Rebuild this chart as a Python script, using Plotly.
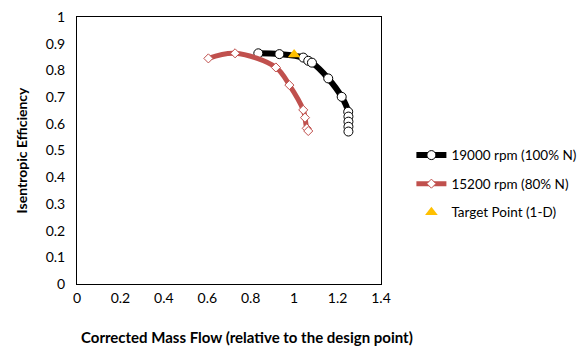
import plotly.graph_objects as go

# Data
flow_100 = [0.835, 0.932, 1.042, 1.065, 1.082, 1.157, 1.219, 1.249, 1.250, 1.250, 1.250, 1.250]
eff_100 = [0.864, 0.861, 0.848, 0.836, 0.829, 0.770, 0.701, 0.645, 0.627, 0.608, 0.589, 0.571]

flow_80 = [0.605, 0.728, 0.916, 0.978, 1.042, 1.050, 1.058, 1.065]
eff_80 = [0.845, 0.864, 0.811, 0.745, 0.652, 0.623, 0.583, 0.573]

target_flow = [1.0]
target_eff = [0.86]

x_ticks = [0, 0.2, 0.4, 0.6, 0.8, 1, 1.2, 1.4]
y_ticks = [0, 0.1, 0.2, 0.3, 0.4, 0.5, 0.6, 0.7, 0.8, 0.9, 1]

FONT = "Lato"

fig = go.Figure()
fig.add_trace(go.Scatter(
    x=flow_100, y=eff_100, mode="lines+markers", name="19000 rpm (100% N)",
    line=dict(color="black", width=6, shape="spline"),
    marker=dict(symbol="circle", size=9, color="white", line=dict(color="black", width=1)),
    legendgroup="a",
))
fig.add_trace(go.Scatter(
    x=flow_80, y=eff_80, mode="lines+markers", name="15200 rpm (80% N)",
    line=dict(color="#C0504D", width=5, shape="spline"),
    marker=dict(symbol="diamond", size=7, color="white", line=dict(color="#C0504D", width=1)),
    legendgroup="b",
))
fig.add_trace(go.Scatter(
    x=target_flow, y=target_eff, mode="markers", name="Target Point (1-D)",
    marker=dict(symbol="triangle-up", size=11, color="#FFC000"),
    legendgroup="c",
))

fig.update_layout(
    width=587, height=347,
    margin=dict(l=77, r=206, t=17, b=63, autoexpand=False),
    paper_bgcolor="white", plot_bgcolor="white",
    font=dict(family=FONT, color="black", size=13),
    showlegend=True,
    legend=dict(
        x=1.1, y=0.54, xanchor="left", yanchor="top",
        font=dict(family=FONT, size=13.5, color="black"),
        traceorder="grouped", tracegroupgap=8,
        bgcolor="rgba(0,0,0,0)",
    ),
    xaxis=dict(
        range=[0, 1.4], tickvals=x_ticks, ticktext=[str(v) for v in x_ticks],
        showline=True, mirror=True, linecolor="black", linewidth=1,
        showgrid=False, zeroline=False, ticks="", automargin=False,
        tickfont=dict(family=FONT, size=14),
        ticklabelstandoff=1,
    ),
    yaxis=dict(
        range=[0, 1], tickvals=y_ticks, ticktext=[str(v) for v in y_ticks],
        showline=True, mirror=True, linecolor="black", linewidth=1,
        showgrid=False, zeroline=False, ticks="", automargin=False,
        tickfont=dict(family=FONT, size=14),
        ticklabelstandoff=8,
        title=dict(text="<b>Isentropic Efficiency</b>",
                   font=dict(family=FONT, size=14), standoff=14),
    ),
    annotations=[dict(
        text="<b>Corrected Mass Flow (relative to the design point)</b>",
        xref="paper", yref="paper", x=0.559, y=-0.198,
        xanchor="center", yanchor="middle", showarrow=False,
        font=dict(family=FONT, size=15, color="black"),
    )],
)

fig.write_html("out.html", post_script="document.body.style.margin='0';",
               config={"displayModeBar": False})
